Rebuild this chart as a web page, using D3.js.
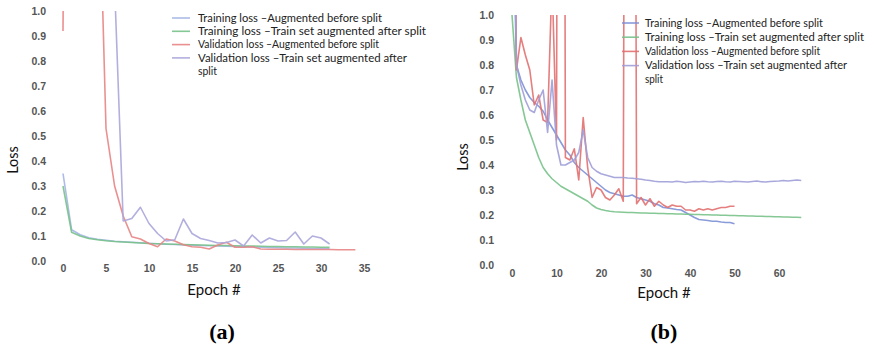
<!DOCTYPE html>
<html>
<head>
<meta charset="utf-8">
<script src="https://cdn.jsdelivr.net/npm/d3@7"></script>
<style>
  html, body { margin: 0; padding: 0; background: #fff; }
  svg { display: block; }
</style>
</head>
<body>
<svg id="chart" width="869" height="345"></svg>
<script>
// ---------- Data ----------
const legendLabels = [
  "Training loss \u2013Augmented before split",
  "Training loss \u2013Train set augmented after split",
  "Validation loss \u2013Augmented before split",
  "Validation loss \u2013Train set augmented after",
  "split"
];
const yTicks = [0.0, 0.1, 0.2, 0.3, 0.4, 0.5, 0.6, 0.7, 0.8, 0.9, 1.0];
const xTicksA = [0, 5, 10, 15, 20, 25, 30, 35];
const xTicksB = [0, 10, 20, 30, 40, 50, 60];

// (a) values by epoch (index = epoch)
const trainBeforeA = [0.35, 0.125, 0.105, 0.093, 0.087, 0.083, 0.079, 0.077, 0.075, 0.073, 0.071, 0.069, 0.067, 0.066, 0.064, 0.063, 0.062, 0.061, 0.060, 0.059, 0.058, 0.057, 0.056, 0.055, 0.054, 0.053, 0.052, 0.052, 0.051, 0.050, 0.050, 0.049];
const trainAfterA = [0.30, 0.115, 0.10, 0.09, 0.085, 0.081, 0.078, 0.076, 0.074, 0.072, 0.070, 0.069, 0.068, 0.067, 0.066, 0.065, 0.064, 0.063, 0.062, 0.062, 0.061, 0.060, 0.060, 0.059, 0.058, 0.058, 0.057, 0.057, 0.056, 0.056, 0.055, 0.055];
const valBeforeA = [0.92, 6.0, 4.0, 3.0, 1.78, 0.53, 0.30, 0.18, 0.097, 0.088, 0.07, 0.057, 0.088, 0.08, 0.065, 0.057, 0.055, 0.048, 0.064, 0.075, 0.055, 0.055, 0.057, 0.048, 0.047, 0.047, 0.047, 0.046, 0.046, 0.046, 0.046, 0.046, 0.045, 0.045, 0.045];
const valAfterA = [3.0, 3.0, 2.8, 2.5, 2.0, 1.6, 1.1, 0.16, 0.17, 0.215, 0.15, 0.11, 0.08, 0.085, 0.168, 0.11, 0.09, 0.082, 0.072, 0.074, 0.084, 0.06, 0.104, 0.072, 0.092, 0.08, 0.082, 0.116, 0.068, 0.10, 0.092, 0.068];

// (b) values by epoch (index = epoch)
const trainBeforeB = [1.6, 0.80, 0.74, 0.70, 0.67, 0.65, 0.635, 0.615, 0.58, 0.55, 0.52, 0.49, 0.46, 0.44, 0.41, 0.39, 0.375, 0.36, 0.345, 0.33, 0.315, 0.30, 0.29, 0.285, 0.28, 0.275, 0.275, 0.28, 0.27, 0.265, 0.26, 0.255, 0.245, 0.24, 0.23, 0.228, 0.225, 0.222, 0.22, 0.21, 0.20, 0.19, 0.182, 0.18, 0.178, 0.175, 0.175, 0.172, 0.17, 0.17, 0.165];
const trainAfterB = [1.0, 0.75, 0.66, 0.58, 0.53, 0.48, 0.43, 0.39, 0.365, 0.345, 0.33, 0.315, 0.305, 0.295, 0.285, 0.275, 0.265, 0.255, 0.24, 0.228, 0.222, 0.218, 0.215, 0.213, 0.212, 0.211, 0.210, 0.210, 0.209, 0.208, 0.208, 0.207, 0.207, 0.206, 0.206, 0.205, 0.205, 0.204, 0.204, 0.203, 0.203, 0.202, 0.202, 0.201, 0.201, 0.200, 0.200, 0.199, 0.199, 0.198, 0.198, 0.197, 0.197, 0.196, 0.196, 0.195, 0.195, 0.194, 0.194, 0.193, 0.193, 0.192, 0.192, 0.191, 0.191, 0.190];
const valBeforeB = [3.0, 0.78, 0.91, 0.84, 0.78, 0.64, 0.68, 0.58, 0.57, 1.15, 0.50, 8.0, 0.43, 0.42, 0.465, 0.34, 0.59, 0.39, 0.27, 0.31, 0.30, 0.27, 0.26, 0.28, 0.305, 0.255, 6.0, 6.0, 0.245, 0.27, 0.24, 0.265, 0.235, 0.255, 0.24, 0.23, 0.24, 0.235, 0.235, 0.22, 0.22, 0.215, 0.225, 0.22, 0.225, 0.22, 0.225, 0.23, 0.23, 0.235, 0.235];
const valAfterB = [2.0, 0.80, 0.72, 0.66, 0.62, 0.61, 0.66, 0.70, 0.53, 0.74, 0.48, 0.40, 0.40, 0.41, 0.42, 0.45, 0.54, 0.43, 0.39, 0.375, 0.365, 0.36, 0.355, 0.35, 0.35, 0.35, 0.348, 0.347, 0.345, 0.343, 0.34, 0.338, 0.335, 0.333, 0.333, 0.333, 0.332, 0.335, 0.333, 0.33, 0.332, 0.334, 0.333, 0.335, 0.333, 0.332, 0.334, 0.335, 0.333, 0.332, 0.335, 0.334, 0.333, 0.332, 0.334, 0.336, 0.333, 0.332, 0.334, 0.335, 0.336, 0.338, 0.336, 0.338, 0.34, 0.338];

const colorsA = ["#a3b4e6", "#78c28a", "#e88484", "#aaa6dc"];
const colorsB = ["#7d90d6", "#78c28a", "#e27070", "#a09ed8"];

// ---------- Drawing ----------
const svg = d3.select("#chart");
const tickFont = "'Liberation Sans', Arial, sans-serif";
const labelFont = "Lato, 'Open Sans', sans-serif";

function panel(cfg) {
  const x = d3.scaleLinear().domain(cfg.xDomain).range(cfg.xRange);
  const y = d3.scaleLinear().domain([0, 1]).range(cfg.yRange);
  const g = svg.append("g");

  const clipId = "clip-" + cfg.id;
  svg.append("defs").append("clipPath").attr("id", clipId)
    .append("rect")
    .attr("x", cfg.xRange[0] - 5).attr("y", cfg.yRange[1])
    .attr("width", cfg.xRange[1] - cfg.xRange[0] + 40)
    .attr("height", cfg.yRange[0] - cfg.yRange[1] + 5);

  // y axis (labels only)
  const yAxis = d3.axisLeft(y).tickValues(yTicks).tickFormat(d3.format(".1f")).tickSize(0).tickPadding(0);
  const ya = g.append("g").attr("transform", `translate(${cfg.yLabelX},0)`).call(yAxis);
  ya.select(".domain").remove();
  ya.selectAll("text").attr("font-family", tickFont).attr("font-size", 10.5)
    .attr("font-weight", "bold").attr("fill", "#555").attr("dy", "0.35em");

  // x axis (labels only)
  const xAxis = d3.axisBottom(x).tickValues(cfg.xTicks).tickSize(0).tickPadding(0);
  const xa = g.append("g").attr("transform", `translate(0,${cfg.xLabelY})`).call(xAxis);
  xa.select(".domain").remove();
  xa.selectAll("text").attr("font-family", tickFont).attr("font-size", 10.5)
    .attr("font-weight", "bold").attr("fill", "#555").attr("dy", "0.35em");

  // series lines
  const line = d3.line().x((d, i) => x(i)).y(d => y(d));
  const lines = g.append("g").attr("clip-path", `url(#${clipId})`);
  cfg.series.forEach((s, k) => {
    lines.append("path").datum(s)
      .attr("d", line)
      .attr("fill", "none")
      .attr("stroke", cfg.colors[k])
      .attr("stroke-width", 1.6)
      .attr("stroke-linejoin", "round")
      .attr("opacity", 0.9);
  });

  // axis titles
  g.append("text")
    .attr("transform", `translate(${cfg.lossX},${cfg.lossY}) rotate(-90)`)
    .attr("text-anchor", "middle").attr("dy", "0.35em")
    .attr("font-family", labelFont).attr("font-size", 14.5).attr("fill", "#111")
    .text("Loss");
  g.append("text")
    .attr("x", cfg.epochX).attr("y", cfg.epochY)
    .attr("text-anchor", "middle").attr("dy", "0.35em")
    .attr("font-family", labelFont).attr("font-size", 15).attr("fill", "#111")
    .text("Epoch #");

  // legend
  const lg = g.append("g");
  legendLabels.forEach((t, i) => {
    const yy = cfg.legY + i * cfg.legStep;
    if (i < 4) {
      lg.append("line")
        .attr("x1", cfg.legLineX[0]).attr("x2", cfg.legLineX[1])
        .attr("y1", yy).attr("y2", yy)
        .attr("stroke", cfg.colors[i]).attr("stroke-width", 1.6).attr("opacity", 0.9);
    }
    lg.append("text")
      .attr("x", cfg.legTextX).attr("y", yy).attr("dy", "0.35em")
      .attr("font-family", labelFont).attr("font-size", cfg.legFont).attr("fill", "#222")
      .attr("textLength", cfg.legWidths[i]).attr("lengthAdjust", "spacingAndGlyphs")
      .text(t);
  });

  // panel caption
  svg.append("text")
    .attr("x", cfg.capX).attr("y", 331).attr("dy", "0.35em")
    .attr("text-anchor", "middle")
    .attr("font-family", "'Liberation Serif', 'Times New Roman', serif")
    .attr("font-weight", "bold").attr("font-size", 22).attr("fill", "#000")
    .text(cfg.caption);
}

panel({
  id: "a",
  xDomain: [0, 35], xRange: [63, 364], yRange: [261, 11],
  xTicks: xTicksA, yLabelX: 46, xLabelY: 268,
  series: [trainBeforeA, trainAfterA, valBeforeA, valAfterA],
  colors: colorsA,
  lossX: 13, lossY: 160, epochX: 214, epochY: 290,
  legY: 18, legStep: 13.3, legLineX: [172, 190], legTextX: 198,
  legFont: 10.5, legWidths: [184, 228, 181, 209, 19],
  capX: 222, caption: "(a)"
});

panel({
  id: "b",
  xDomain: [0, 60], xRange: [512, 779], yRange: [265, 15],
  xTicks: xTicksB, yLabelX: 494, xLabelY: 273,
  series: [trainBeforeB, trainAfterB, valBeforeB, valAfterB],
  colors: colorsB,
  lossX: 463, lossY: 157, epochX: 664, epochY: 293,
  legY: 23, legStep: 14.2, legLineX: [622, 639], legTextX: 645,
  legFont: 10.5, legWidths: [178, 219, 175, 202, 18],
  capX: 664, caption: "(b)"
});
</script>
</body>
</html>
